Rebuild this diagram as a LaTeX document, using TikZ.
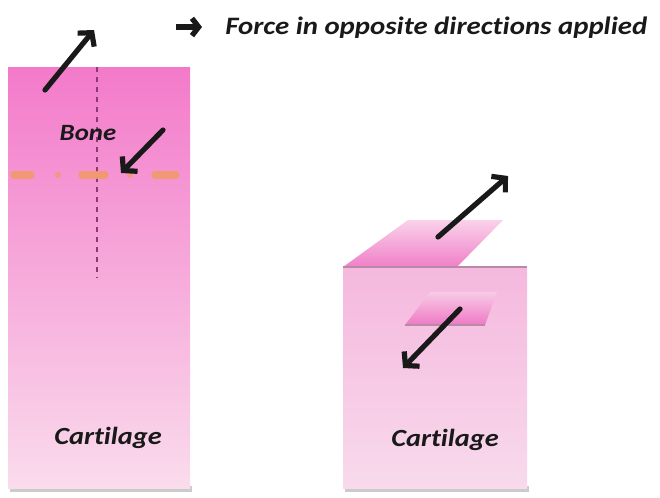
\documentclass[tikz,border=0pt]{standalone}
\usepackage{fontspec}
\setmainfont{Carlito}[FakeStretch=1.15, Ligatures=NoCommon]
\usetikzlibrary{arrows.meta}
\definecolor{lTop}{HTML}{F37ACA}
\definecolor{lMid}{HTML}{F8AEDC}
\definecolor{lBot}{HTML}{FADCEC}
\definecolor{rTop}{HTML}{F5B8DE}
\definecolor{rBot}{HTML}{F8DAEC}
\definecolor{flapDark}{HTML}{EE72C2}
\definecolor{flapLight}{HTML}{F9CDE8}
\definecolor{edgeLine}{HTML}{B98AA6}
\definecolor{cutOrange}{HTML}{F09A6A}
\definecolor{axisLine}{HTML}{8A3A72}
\begin{document}
\begin{tikzpicture}[x=0.75pt,y=-0.75pt,
  lbl/.style={font=\bfseries\itshape\fontsize{18.5}{22}\selectfont, text=black!90, inner sep=0pt},
  force/.style={line width=3.9pt, black!90, line cap=round, -{Straight Barb[length=7pt,width=16pt]}},
  shadowbar/.style={fill=black!45, opacity=0.45}]
\useasboundingbox (0,0) rectangle (660,497);
% ---------- left block ----------
\fill[shadowbar] (10,486) rectangle (192,492);
\shade[top color=lTop, middle color=lMid, bottom color=lBot] (8,67) rectangle (190,488);
\draw[axisLine, line width=0.8pt, dash pattern=on 4pt off 3.5pt] (97,67) -- (97,278);
\foreach \a/\b in {12/33, 80/107, 153/178}
  \draw[cutOrange, line width=5.5pt, line cap=round, opacity=0.9] (\a+2,175) -- (\b-2,175);
\foreach \a in {58,130}
  \fill[cutOrange, opacity=0.8] (\a,175) circle (2.2pt);
\coordinate (a1s) at (45,90);  \coordinate (a1e) at (94,30);
\coordinate (a2s) at (163,130); \coordinate (a2e) at (121,173);
\draw[force] (a1s) -- (a1e);
\draw[force] (a2s) -- (a2e);
\node[lbl, font=\bfseries\itshape\fontsize{17.5}{21}\selectfont] (bone) at (88,133) {Bone};
\node[lbl] (cart1) at (108,438) {Cartilage};
% ---------- right block ----------
\fill[shadowbar] (345,486) rectangle (529,492);
\shade[top color=rTop, bottom color=rBot] (343,267) rectangle (527,488);
\shade[top color=flapLight, bottom color=flapDark, opacity=0.9] (343,267) -- (408,220) -- (503,220) -- (457,267) -- cycle;
\shade[top color=flapLight, bottom color=flapDark, opacity=0.9] (405,325) -- (430,292) -- (497,292) -- (485,325) -- cycle;
\draw[edgeLine, line width=0.9pt] (405,325) -- (485,325);
\draw[edgeLine, line width=1.4pt] (343,267) -- (527,267);
\coordinate (b1s) at (438,237); \coordinate (b1e) at (508,176);
\coordinate (b2s) at (460,309); \coordinate (b2e) at (403,368);
\draw[force] (b1s) -- (b1e);
\draw[force] (b2s) -- (b2e);
\node[lbl] (cart2) at (445,440) {Cartilage};
% ---------- legend ----------
\coordinate (ls) at (176,27); \coordinate (le) at (202,27);
\draw[line width=4pt, black!90, -{Straight Barb[length=5pt,width=13pt]}] (ls) -- (le);
\node[lbl, anchor=west, font=\bfseries\itshape\fontsize{18.8}{22}\selectfont] (legend) at (225,28) {Force in opposite directions applied};
\end{tikzpicture}
\end{document}
